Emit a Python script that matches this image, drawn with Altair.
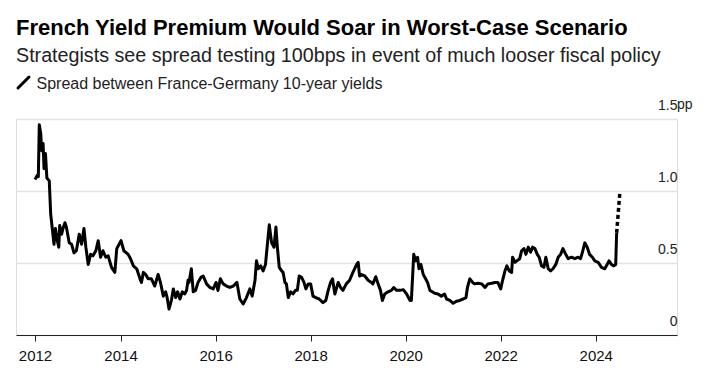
import altair as alt
import pandas as pd

TITLE = "French Yield Premium Would Soar in Worst-Case Scenario"
SUBTITLE = "Strategists see spread testing 100bps in event of much looser fiscal policy"
LEGEND = "Spread between France-Germany 10-year yields"

years = [
    2012.20, 2012.25, 2012.27, 2012.29, 2012.32, 2012.34, 2012.37, 2012.39, 2012.42, 2012.45,
    2012.50, 2012.53, 2012.56, 2012.60, 2012.63, 2012.67, 2012.70, 2012.72, 2012.76, 2012.79,
    2012.83, 2012.86, 2012.92, 2012.97, 2013.02, 2013.07, 2013.13, 2013.18, 2013.23, 2013.27,
    2013.32, 2013.37, 2013.42, 2013.48, 2013.53, 2013.58, 2013.63, 2013.69, 2013.74, 2013.81,
    2013.88, 2013.92, 2013.97, 2014.01, 2014.07, 2014.16, 2014.21, 2014.27, 2014.34, 2014.41,
    2014.44, 2014.48, 2014.53, 2014.58, 2014.65, 2014.72, 2014.79, 2014.84, 2014.90, 2014.95,
    2014.98, 2015.02, 2015.07, 2015.11, 2015.16, 2015.20, 2015.25, 2015.30, 2015.35, 2015.39,
    2015.42, 2015.44, 2015.49, 2015.53, 2015.58, 2015.63, 2015.69, 2015.74, 2015.81, 2015.88,
    2015.95, 2016.01, 2016.05, 2016.10, 2016.16, 2016.23, 2016.30, 2016.37, 2016.45, 2016.51,
    2016.58, 2016.65, 2016.72, 2016.77, 2016.83, 2016.86, 2016.90, 2016.95, 2017.00, 2017.05,
    2017.09, 2017.13, 2017.18, 2017.23, 2017.27, 2017.30, 2017.34, 2017.39, 2017.42, 2017.46,
    2017.49, 2017.53, 2017.58, 2017.63, 2017.68, 2017.72, 2017.76, 2017.81, 2017.86, 2017.90,
    2017.95, 2018.00, 2018.05, 2018.11, 2018.18, 2018.26, 2018.32, 2018.37, 2018.42, 2018.46,
    2018.51, 2018.58, 2018.63, 2018.68, 2018.75, 2018.82, 2018.89, 2018.97, 2019.00, 2019.03,
    2019.07, 2019.14, 2019.21, 2019.28, 2019.31, 2019.37, 2019.42, 2019.47, 2019.51, 2019.56,
    2019.63, 2019.70, 2019.75, 2019.81, 2019.88, 2019.95, 2020.02, 2020.09, 2020.12, 2020.17,
    2020.21, 2020.25, 2020.28, 2020.32, 2020.37, 2020.42, 2020.46, 2020.51, 2020.56, 2020.61,
    2020.68, 2020.75, 2020.82, 2020.86, 2020.93, 2021.00, 2021.07, 2021.14, 2021.21, 2021.27,
    2021.30, 2021.35, 2021.41, 2021.45, 2021.52, 2021.60, 2021.67, 2021.73, 2021.81, 2021.88,
    2021.94, 2022.00, 2022.04, 2022.09, 2022.13, 2022.18, 2022.23, 2022.25, 2022.30, 2022.34,
    2022.40, 2022.44, 2022.49, 2022.53, 2022.58, 2022.63, 2022.67, 2022.72, 2022.77, 2022.81,
    2022.86, 2022.91, 2022.95, 2023.00, 2023.05, 2023.10, 2023.16, 2023.21, 2023.26, 2023.31,
    2023.37, 2023.42, 2023.49, 2023.56, 2023.63, 2023.68, 2023.72, 2023.77, 2023.82, 2023.87,
    2023.93, 2023.98, 2024.05, 2024.12, 2024.19, 2024.24, 2024.28, 2024.33, 2024.38, 2024.42,
    2024.44,
]
spread = [
    1.08, 1.11, 1.10, 1.46, 1.40, 1.28, 1.33, 1.155, 1.26, 1.09,
    1.07, 0.84, 0.75, 0.63, 0.74, 0.655, 0.61, 0.76, 0.70, 0.74,
    0.78, 0.75, 0.64, 0.63, 0.57, 0.585, 0.70, 0.63, 0.74, 0.61,
    0.49, 0.56, 0.55, 0.585, 0.655, 0.54, 0.585, 0.54, 0.55, 0.47,
    0.435, 0.60, 0.63, 0.655, 0.585, 0.56, 0.53, 0.48, 0.46, 0.39,
    0.365, 0.435, 0.42, 0.39, 0.39, 0.34, 0.42, 0.365, 0.27, 0.30,
    0.26, 0.18, 0.24, 0.32, 0.26, 0.30, 0.25, 0.30, 0.285, 0.31,
    0.38, 0.365, 0.46, 0.30, 0.31, 0.365, 0.40, 0.41, 0.355, 0.33,
    0.32, 0.365, 0.31, 0.39, 0.355, 0.34, 0.33, 0.34, 0.365, 0.25,
    0.215, 0.26, 0.32, 0.27, 0.38, 0.515, 0.46, 0.48, 0.445, 0.49,
    0.63, 0.765, 0.64, 0.61, 0.75, 0.61, 0.47, 0.445, 0.435, 0.365,
    0.355, 0.26, 0.30, 0.285, 0.31, 0.31, 0.41, 0.40, 0.365, 0.32,
    0.355, 0.355, 0.27, 0.26, 0.25, 0.225, 0.24, 0.31, 0.365, 0.39,
    0.285, 0.365, 0.33, 0.31, 0.355, 0.38, 0.435, 0.49, 0.505, 0.41,
    0.42, 0.41, 0.38, 0.365, 0.355, 0.405, 0.355, 0.31, 0.24, 0.285,
    0.30, 0.31, 0.33, 0.31, 0.31, 0.315, 0.285, 0.24, 0.24, 0.56,
    0.515, 0.54, 0.46, 0.49, 0.42, 0.39, 0.365, 0.31, 0.30, 0.29,
    0.285, 0.27, 0.285, 0.25, 0.24, 0.22, 0.235, 0.24, 0.25, 0.26,
    0.33, 0.39, 0.365, 0.355, 0.36, 0.355, 0.33, 0.355, 0.36, 0.365,
    0.365, 0.32, 0.38, 0.445, 0.48, 0.445, 0.435, 0.54, 0.505, 0.515,
    0.53, 0.585, 0.60, 0.56, 0.61, 0.575, 0.61, 0.60, 0.56, 0.54,
    0.48, 0.47, 0.54, 0.46, 0.445, 0.46, 0.49, 0.54, 0.56, 0.60,
    0.56, 0.53, 0.54, 0.53, 0.54, 0.53, 0.575, 0.64, 0.61, 0.56,
    0.54, 0.515, 0.505, 0.47, 0.46, 0.49, 0.515, 0.49, 0.48, 0.49,
    0.71,
]
proj_years = [2024.44, 2024.51]
proj_spread = [0.71, 1.00]

x_ticks = [2012.2, 2014, 2016, 2018, 2020, 2022, 2024]
y_ticks = [0, 0.5, 1.0, 1.5]

FONT = "Liberation Sans"
W, H = 661, 216

df = pd.DataFrame({"year": years, "spread": spread})
dfp = pd.DataFrame({"year": proj_years, "spread": proj_spread})

xs = alt.Scale(domain=[2011.80, 2025.71], nice=False, zero=False)
ys = alt.Scale(domain=[0, 1.5], nice=False)

x_enc = alt.X("year:Q", scale=xs, title=None,
              axis=alt.Axis(values=x_ticks, format="d", grid=False, domain=True,
                            domainColor="#222222", domainWidth=1.2, ticks=True,
                            tickColor="#222222", tickSize=6, labelPadding=7,
                            labelFontSize=15, labelColor="#111111", labelFont=FONT))
y_enc = alt.Y("spread:Q", scale=ys, title=None,
              axis=alt.Axis(orient="right", values=y_ticks, domain=False, ticks=False,
                            grid=True, gridColor="#e2e2e2", gridWidth=1.5,
                            labelAlign="right", labelPadding=0, labelBaseline="alphabetic",
                            labelOffset=-10, labelFontSize=14, labelColor="#222222", labelFont=FONT,
                            labelExpr="datum.value == 0 ? '0' : format(datum.value, '.1f')"))

line = alt.Chart(df).mark_line(color="black", strokeWidth=3, strokeJoin="round").encode(
    x=x_enc, y=y_enc)
proj = alt.Chart(dfp).mark_line(color="black", strokeWidth=3.5, strokeDash=[4, 3]).encode(
    x="year:Q", y="spread:Q")

pp = alt.Chart(pd.DataFrame({"t": ["pp"]})).mark_text(
    align="left", baseline="alphabetic", dy=-10, fontSize=14, font=FONT, color="#222222"
).encode(x=alt.value(W), y=alt.datum(1.5), text="t:N")

title = alt.Chart(pd.DataFrame({"t": [TITLE]})).mark_text(
    align="left", baseline="alphabetic", fontSize=22, fontWeight="bold", font=FONT, color="black"
).encode(x=alt.value(0), y=alt.value(-84), text="t:N")
subtitle = alt.Chart(pd.DataFrame({"t": [SUBTITLE]})).mark_text(
    align="left", baseline="alphabetic", fontSize=19.7, font=FONT, color="#222222"
).encode(x=alt.value(0), y=alt.value(-57.5), text="t:N")
legend = alt.Chart(pd.DataFrame({"t": [LEGEND]})).mark_text(
    align="left", baseline="alphabetic", fontSize=16, font=FONT, color="#222222"
).encode(x=alt.value(20.5), y=alt.value(-29.7), text="t:N")
slash = alt.Chart(pd.DataFrame({"t": [LEGEND]})).mark_rule(
    color="black", strokeWidth=3, strokeCap="round"
).encode(x=alt.value(2), x2=alt.value(13), y=alt.value(-31), y2=alt.value(-42))

chart = alt.layer(line, proj, pp, title, subtitle, legend, slash).properties(
    width=W, height=H,
    autosize=alt.AutoSizeParams(type="none"),
    padding={"left": 8, "top": 111, "right": 20, "bottom": 33},
).configure_view(stroke=None).configure(background="white")

chart.save("out.html", embed_options={"renderer": "svg", "actions": False})
